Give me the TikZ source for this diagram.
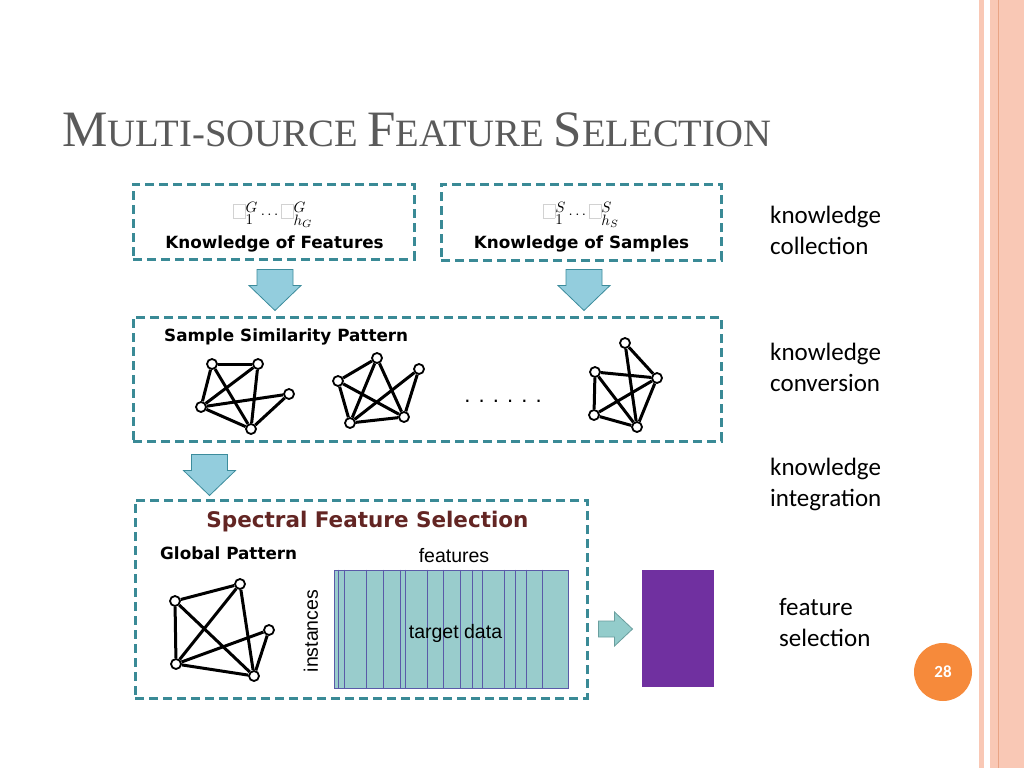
\documentclass[tikz,border=0pt]{standalone}
\usepackage{amsmath,amssymb}
\usepackage{xcolor}
\usepackage{fontspec}
\usepackage{tikz}
\usetikzlibrary{positioning,calc}

\newfontfamily\verdfont{DejaVu Sans}
\newfontfamily\arifont{Liberation Sans}
\newfontfamily\calfont{Carlito}
\newfontfamily\titfont{Liberation Serif}
\newcommand{\capsz}{\fontsize{51}{51}\selectfont}
\newcommand{\smsz}{\fontsize{38.7}{38.7}\selectfont}
\newcommand{\gbox}{\mbox{\color{gray!35}\setlength{\fboxrule}{0.5pt}\setlength{\fboxsep}{0pt}\fbox{\rule{0pt}{9pt}\hspace{7.5pt}}}}

\definecolor{boxteal}{HTML}{3A8A96}
\definecolor{arrowfill}{HTML}{93CDDD}
\definecolor{arrowdraw}{HTML}{3C8C9C}
\definecolor{rarrowfill}{HTML}{93CCCB}
\definecolor{rarrowdraw}{HTML}{6A9E9E}
\definecolor{datateal}{HTML}{99CCCC}
\definecolor{gridblue}{HTML}{5A5AA8}
\definecolor{selpurple}{HTML}{7030A0}
\definecolor{sfsred}{HTML}{632523}
\definecolor{titlegray}{HTML}{5A5A5A}
\definecolor{stripe}{HTML}{F9C8B5}
\definecolor{stripedark}{HTML}{E9A485}
\definecolor{pageorange}{HTML}{F68A3B}

\begin{document}
\begin{tikzpicture}[
    x=1pt, y=-1pt,
    dashbox/.style={rectangle, draw=boxteal, line width=3pt, dash pattern=on 9pt off 5pt, inner sep=0pt},
    boldlabel/.style={inner sep=0pt, font=\verdfont\bfseries\fontsize{16.8}{20}\selectfont},
    sidelabel/.style={inner sep=0pt, align=left, font=\calfont\fontsize{25}{31}\selectfont},
    plainlabel/.style={inner sep=0pt, font=\arifont\fontsize{19.5}{22}\selectfont},
    mathlabel/.style={inner sep=0pt},
    vertex/.style={circle, draw, line width=1.8pt, fill=white, minimum size=10pt, inner sep=0pt},
    link/.style={line width=3pt},
    blockarrow/.style={fill=arrowfill, draw=arrowdraw, line width=0.8pt},
    gridline/.style={draw=gridblue, line width=0.8pt},
    downblock/.pic={\draw [blockarrow] (-18,0) -- (18,0) -- (18,16) -- (26,16) -- (0,41) -- (-26,16) -- (-18,16) -- cycle;},
    rightblock/.pic={\draw [fill=rarrowfill, draw=rarrowdraw, line width=0.8pt] (0,-8) -- (16,-8) -- (16,-17) -- (34,0) -- (16,17) -- (16,8) -- (0,8) -- cycle;}
]
    \useasboundingbox (0,0) rectangle (1024,768);
    \fill [white] (0,0) rectangle (1024,768);

    % slide decoration
    \fill [stripe] (979,0) rectangle (984,768);
    \fill [stripe] (990,0) rectangle (1024,768);
    \draw [stripedark, line width=0.8pt] (998,0) -- (998,768);
    \node (pnum) [circle, fill=pageorange, minimum size=58pt, inner sep=0pt, text=white, font=\calfont\bfseries\fontsize{17}{20}\selectfont] at (943,672) {28};

    % title
    \node (title) [anchor=base west, inner sep=0pt, text=titlegray, font=\titfont] at (62,146)
        {\capsz M\smsz ULTI-SOURCE \capsz F\smsz EATURE \capsz S\smsz ELECTION};

    % knowledge collection
    \node (kf) [dashbox, minimum width=281pt, minimum height=75pt] at (273.5,221.5) {};
    \node (ks) [dashbox, minimum width=280pt, minimum height=76pt] at (581,222) {};
    \node (kfmath) [mathlabel] at (273,215)
        {\scalebox{1.5}{$\gbox^{\textstyle G}_{\textstyle 1}\cdots\gbox^{\textstyle G}_{\textstyle h_G}$}};
    \node (ksmath) [mathlabel] at (581,215)
        {\scalebox{1.5}{$\gbox^{\textstyle S}_{\textstyle 1}\cdots\gbox^{\textstyle S}_{\textstyle h_S}$}};
    \node (kftext) [boldlabel, anchor=base] at (274.5,248) {Knowledge of Features};
    \node (kstext) [boldlabel, anchor=base] at (581.5,248) {Knowledge of Samples};

    % knowledge conversion
    \node (ssp) [dashbox, minimum width=588pt, minimum height=124pt] at (427,379) {};
    \node (ssptext) [boldlabel, anchor=base west] at (164,341) {Sample Similarity Pattern};
    \pic at ($(kf.south)+(1.5,9)$) {downblock};
    \pic at ($(ks.south)+(3,8)$) {downblock};

    \node (p1a) [vertex] at (212,364) {};
    \node (p1b) [vertex] at (258,364) {};
    \node (p1c) [vertex] at (289,394) {};
    \node (p1d) [vertex] at (201,407) {};
    \node (p1e) [vertex] at (251,429) {};
    \foreach \u/\v in {a/b,a/d,a/e,b/d,b/e,d/c,d/e,c/e}
        \draw [link] (p1\u) -- (p1\v);

    \node (p2a) [vertex] at (377,358) {};
    \node (p2b) [vertex] at (419,369) {};
    \node (p2c) [vertex] at (338,381) {};
    \node (p2d) [vertex] at (404,417) {};
    \node (p2e) [vertex] at (350,423) {};
    \foreach \u/\v in {c/a,a/e,a/d,c/d,c/e,e/b,b/d,e/d}
        \draw [link] (p2\u) -- (p2\v);

    \node (dots) [anchor=base, inner sep=0pt, font=\arifont\fontsize{22}{22}\selectfont] at (503,402) {. . . . . .};

    \node (p3a) [vertex] at (625,343) {};
    \node (p3b) [vertex] at (657,378) {};
    \node (p3c) [vertex] at (595,372) {};
    \node (p3d) [vertex] at (594,415) {};
    \node (p3e) [vertex] at (637,427) {};
    \foreach \u/\v in {a/b,a/e,c/b,c/d,c/e,d/b,d/e,b/e}
        \draw [link] (p3\u) -- (p3\v);

    % knowledge integration
    \pic at ($(ssp.south west)+(78,12)$) {downblock};
    \node (sfs) [dashbox, minimum width=452pt, minimum height=198pt] at (361,599) {};
    \node (sfstext) [boldlabel, anchor=base, text=sfsred, font=\verdfont\bfseries\fontsize{21.5}{24}\selectfont] at (367.5,527) {Spectral Feature Selection};
    \node (gptext) [boldlabel, anchor=base west] at (160,559) {Global Pattern};

    \node (gpa) [vertex] at (240,584) {};
    \node (gpb) [vertex] at (175,601) {};
    \node (gpc) [vertex] at (269,630) {};
    \node (gpd) [vertex] at (176,664) {};
    \node (gpe) [vertex] at (254,676) {};
    \foreach \u/\v in {b/a,a/d,a/e,b/d,b/e,d/c,c/e,d/e}
        \draw [link] (gp\u) -- (gp\v);

    \node (data) [rectangle, fill=datateal, draw=gridblue, line width=0.8pt, minimum width=234pt, minimum height=118pt, inner sep=0pt] at (451,629) {};
    \foreach \dx in {5,10.7,33,49.7,66.4,71.7,93.4,110,126.7,138.4,149,170.7,181.4,192.4,209}
        \draw [gridline] ($(data.north west)+(\dx,0)$) -- ($(data.south west)+(\dx,0)$);
    \node (datatext) [plainlabel, anchor=base] at (455.5,638) {target data};
    \node (feattext) [plainlabel, anchor=base] at (454,562) {features};
    \node (insttext) [plainlabel, rotate=90] at (311,631) {instances};

    % feature selection
    \pic at ($(sfs.east)+(10,30)$) {rightblock};
    \node (sel) [rectangle, fill=selpurple, minimum width=72pt, minimum height=117pt, inner sep=0pt] at (678,628.5) {};

    % stage labels
    \node (lab1) [sidelabel, anchor=base west] at (770,254) {knowledge\\collection};
    \node (lab2) [sidelabel, anchor=base west] at (770,391) {knowledge\\conversion};
    \node (lab3) [sidelabel, anchor=base west] at (770,506) {knowledge\\integration};
    \node (lab4) [sidelabel, anchor=base west] at (779,646) {feature\\selection};
\end{tikzpicture}
\end{document}
